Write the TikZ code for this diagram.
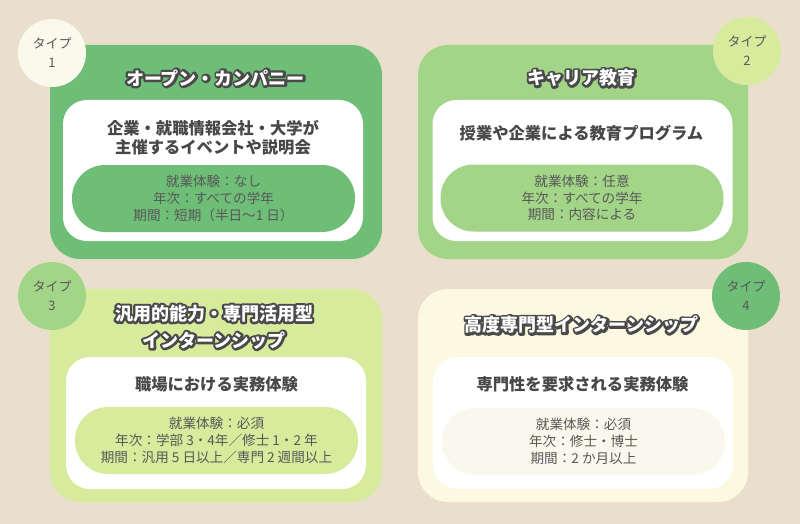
\documentclass[tikz,border=0pt]{standalone}
\usepackage{fontspec}
\setmainfont{Noto Sans CJK JP}
\usetikzlibrary{positioning}

\definecolor{paper}{HTML}{EADFCC}
\definecolor{leafA}{HTML}{6EBE77}
\definecolor{leafB}{HTML}{A2D587}
\definecolor{leafC}{HTML}{D6EC9C}
\definecolor{creamD}{HTML}{FDF8E1}
\definecolor{creamP}{HTML}{FAF8EC}
\definecolor{creamO}{HTML}{FBF8EC}
\definecolor{ink}{HTML}{484848}
\definecolor{inkl}{HTML}{585858}

% white title lettering with a dark halo
\newcommand{\ttl}[1]{\leavevmode\rlap{\color{ink}\special{pdf:literal direct 0.29 0.29 0.29 RG 1 j 1 J 4.6 w 2 Tr}#1\special{pdf:literal direct 0 Tr}}#1}

\begin{document}
\begin{tikzpicture}[
  x=1pt, y=-1pt,
  tier/.style={rounded corners=30pt, minimum width=332pt, minimum height=214pt, inner sep=0pt},
  panel/.style={fill=white, rounded corners=24pt, minimum width=300pt, minimum height=141pt, inner sep=0pt},
  pill/.style={rounded corners=33pt, minimum width=283pt, minimum height=67pt, inner sep=0pt,
    text=inkl, align=center, font=\fontsize{13.6}{16.8}\selectfont},
  badge/.style={circle, minimum size=68pt, inner sep=0pt, align=center, text=inkl,
    font=\fontsize{13}{19}\selectfont},
  title/.style={text=white, align=center, font=\bfseries\fontsize{18}{27}\selectfont},
  desc/.style={text=ink, align=center, font=\bfseries\fontsize{16.3}{19}\selectfont},
]
\fill[paper] (0,0) rectangle (800,524);

% type 1
\node[tier, fill=leafA] (card1) at (216,152) {};
\node[badge, fill=creamO] (badge1) at (52,53) {タイプ\\1};
\node[title] (title1) at (215.5,78) {\ttl{オープン・カンパニー}};
\node[panel] (panel1) at (213,170.5) {};
\node[desc] (desc1) at (213,138) {企業・就職情報会社・大学が\\主催するイベントや説明会};
\node[pill, fill=leafA] (cond1) at (213.5,198.5) {就業体験：なし\\年次：すべての学年\\期間：短期（半日〜1 日）};

% type 2
\node[tier, fill=leafB, minimum width=330pt] (card2) at (583,152) {};
\node[badge, fill=leafC] (badge2) at (747,51) {タイプ\\2};
\node[title] (title2) at (581.5,78) {\ttl{キャリア教育}};
\node[panel] (panel2) at (582.5,170.5) {};
\node[desc] (desc2) at (581.5,133) {授業や企業による教育プログラム};
\node[pill, fill=leafB] (cond2) at (582,198) {就業体験：任意\\年次：すべての学年\\期間：内容による};

% type 3
\node[tier, fill=leafC, minimum height=213pt] (card3) at (216,395.5) {};
\node[badge, fill=leafB] (badge3) at (52,296) {タイプ\\3};
\node[title] (title3) at (214,327) {\ttl{汎用的能力・専門活用型}\\\ttl{インターンシップ}};
\node[panel, minimum height=132pt] (panel3) at (216,423) {};
\node[desc] (desc3) at (216.5,384) {職場における実務体験};
\node[pill, fill=leafC] (cond3) at (216.5,440.5) {就業体験：必須\\年次：学部 3・4年／修士 1・2 年\\期間：汎用 5 日以上／専門 2 週間以上};

% type 4
\node[tier, fill=creamD, minimum width=330pt, minimum height=213pt] (card4) at (583,395.5) {};
\node[badge, fill=leafA] (badge4) at (746,296) {タイプ\\4};
\node[title] (title4) at (581.5,325) {\ttl{高度専門型インターンシップ}};
\node[panel, minimum height=132pt] (panel4) at (583,423) {};
\node[desc] (desc4) at (582.5,384) {専門性を要求される実務体験};
\node[pill, fill=creamP] (cond4) at (583.5,441.5) {就業体験：必須\\年次：修士・博士\\期間：2 か月以上};
\end{tikzpicture}
\end{document}
